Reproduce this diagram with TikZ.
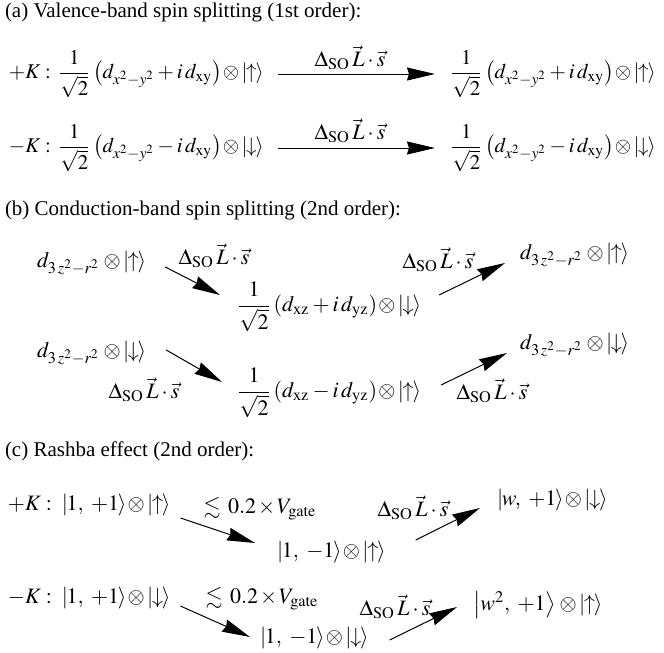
\documentclass[tikz,border=0pt]{standalone}
\usepackage{amsmath,amssymb}
\usepackage[no-math]{fontspec}
\usepackage{mathptmx}
\setmainfont{Liberation Serif}
\usetikzlibrary{arrows.meta,calc}
\newcommand{\kt}[1]{\lvert\mkern-1mu #1\mkern-1mu\rangle}
\newcommand{\ot}{\mkern1mu\mathord{\otimes}\mkern2mu}
\newcommand{\dso}{\Delta_{\mathrm{SO}}\,\vec{L}\cdot\vec{s}}
\newcommand{\dzz}{d_{3\,z^2-r^2}}
\newcommand{\dxxy}{d_{x^2-y^2}}
\newcommand{\frr}{\dfrac{1}{\sqrt{2}}}
\newcommand{\rg}{\lesssim\,0.2\mkern-1mu\times\mkern-1mu V_{\mathrm{gate}}}
\newcommand{\aexpr}[3]{\frr\mkern2mu\bigl(\dxxy #1 i\,d_{\mathrm{xy}}\bigr)\ot\kt{#2}}
\begin{document}
\begin{tikzpicture}[x=0.5pt,y=-0.5pt,
  every node/.style={inner sep=0pt,outer sep=0pt,font=\fontsize{11}{13}\selectfont},
  st/.style={anchor=west},
  ttl/.style={anchor=west,font=\fontsize{10.5}{12.5}\selectfont},
  amath/.style={anchor=west,font=\fontsize{10.5}{12.5}\selectfont},
  arr/.style={-{Stealth[length=14pt,width=6.5pt,inset=1pt]},line width=0.5pt}]
\useasboundingbox (0,0) rectangle (664,653);

% (a)
\node[ttl] (ta) at (5,12) {(a) Valence-band spin splitting (1st order):};
\node[amath] (aL1) at (9,74) {$+K:\,\aexpr{+}{\uparrow}{}$};
\node[amath] (aR1) at (450,74) {$\aexpr{+}{\uparrow}{}$};
\node (la1) at (350,58) {$\dso$};
\node[amath] (aL2) at (9,148) {$-K:\,\aexpr{-}{\downarrow}{}$};
\node[amath] (aR2) at (450,148) {$\aexpr{-}{\downarrow}{}$};
\node (la2) at (350,131) {$\dso$};
\draw[arr] ($(aL1.east)+(14,0)$) -- ($(aR1.west)+(-15,0)$);
\draw[arr] ($(aL2.east)+(14,0)$) -- ($(aR2.west)+(-15,0)$);

% (b)
\node[ttl] (tb) at (5,210) {(b) Conduction-band spin splitting (2nd order):};
\node[st] (bL1) at (37,263) {$\dzz\mkern2mu\ot\kt{\uparrow}$};
\node[st] (bM1) at (237,307) {$\frr\,(d_{\mathrm{xz}}+i\,d_{\mathrm{yz}})\ot\kt{\downarrow}$};
\node[st] (bR1) at (520,255) {$\dzz\mkern2mu\ot\kt{\uparrow}$};
\node[st] (bL2) at (37,353) {$\dzz\mkern2mu\ot\kt{\downarrow}$};
\node[st] (bM2) at (237,393) {$\frr\,(d_{\mathrm{xz}}-i\,d_{\mathrm{yz}})\ot\kt{\uparrow}$};
\node[st] (bR2) at (520,345) {$\dzz\mkern2mu\ot\kt{\downarrow}$};
\node (lb1) at (214,256) {$\dso$};
\node (lb2) at (438,260) {$\dso$};
\node (lb3) at (144,390) {$\dso$};
\node (lb4) at (492,391) {$\dso$};
\draw[arr] ($(bL1.east)+(19,4)$) -- ($(bM1.west)+(-17,-12)$);
\draw[arr] ($(bM1.east)+(18,-12)$) -- ($(bR1.west)+(-15,8)$);
\draw[arr] ($(bL2.east)+(20,-3)$) -- ($(bM2.west)+(-15,-11)$);
\draw[arr] ($(bM2.east)+(20,-8)$) -- ($(bR2.west)+(-13,8)$);

% (c)
\node[ttl] (tc) at (5,451) {(c) Rashba effect (2nd order):};
\node[st] (cL1) at (8,505) {$+K:\;\kt{1,\;+1}\ot\kt{\uparrow}$};
\node[st] (cM1) at (277,552) {$\kt{1,\;-1}\ot\kt{\uparrow}$};
\node[st] (cR1) at (497,500) {$\kt{w,\;+1}\ot\kt{\downarrow}$};
\node[st] (cL2) at (8,598) {$-K:\;\kt{1,\;+1}\ot\kt{\downarrow}$};
\node[st] (cM2) at (260,638) {$\kt{1,\;-1}\ot\kt{\downarrow}$};
\node[st] (cR2) at (473,605) {$\left\lvert w^2,\;+1\right\rangle\ot\kt{\uparrow}$};
\node (lc1) at (260,509) {$\rg$};
\node (lc2) at (413,508) {$\dso$};
\node (lc3) at (262,599) {$\rg$};
\node (lc4) at (395,607) {$\dso$};
\draw[arr] ($(cL1.east)+(10,13)$) -- ($(cM1.west)+(-22,-9)$);
\draw[arr] ($(cM1.east)+(30,-12)$) -- ($(cR1.west)+(-17,8)$);
\draw[arr] ($(cL2.east)+(10,8)$) -- ($(cM2.west)+(-10,-1)$);
\draw[arr] ($(cM2.east)+(21,2)$) -- ($(cR2.west)+(-16,2)$);
\end{tikzpicture}
\end{document}
